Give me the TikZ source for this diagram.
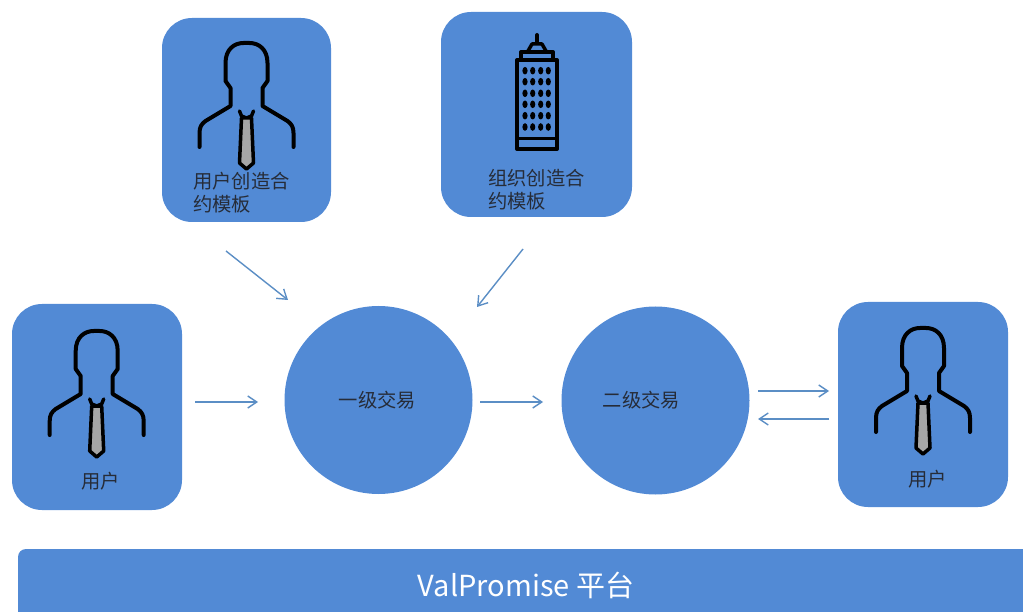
\documentclass[tikz,border=0pt]{standalone}
\usepackage{fontspec}
\setmainfont{Noto Sans CJK SC}
\usetikzlibrary{arrows.meta}
\definecolor{panelblue}{HTML}{528AD5}
\definecolor{flowblue}{HTML}{5B8EC5}
\definecolor{capgray}{HTML}{262C38}
\tikzset{
  panel/.style={fill=panelblue, rounded corners=30pt, inner sep=0pt},
  trade/.style={fill=panelblue, shape=circle, inner sep=0pt, minimum size=188pt},
  captxt/.style={text=capgray, inner sep=0pt, font=\fontsize{19.3}{23}\selectfont},
  flow/.style={draw=flowblue, line width=1.4pt, -{Straight Barb[length=9pt,width=12pt]}},
  icon/.style={draw=black, line width=4pt, line cap=round, line join=round},
}
\def\personicon(#1,#2){
  \draw[icon] (#1-47,#2+104) -- (#1-47,#2+90) .. controls (#1-47,#2+84) and (#1-45,#2+81) .. (#1-41,#2+78)
    -- (#1-16,#2+63) -- (#1-16,#2+45) -- (#1-21,#2+38) -- (#1-21,#2+20)
    .. controls (#1-21,#2+6) and (#1-12,#2) .. (#1-3,#2) -- (#1+3,#2)
    .. controls (#1+12,#2) and (#1+21,#2+6) .. (#1+21,#2+20)
    -- (#1+21,#2+38) -- (#1+16,#2+45) -- (#1+16,#2+63) -- (#1+41,#2+78)
    .. controls (#1+45,#2+81) and (#1+47,#2+84) .. (#1+47,#2+90) -- (#1+47,#2+104);
  \draw[icon, line width=3.5pt] (#1-7,#2+68) -- (#1-5,#2+73) -- (#1,#2+75) -- (#1+5,#2+73) -- (#1+7,#2+68);
  \draw[icon, line width=3.5pt, fill=gray!70] (#1-5,#2+75) -- (#1-7,#2+120) -- (#1,#2+126) -- (#1+7,#2+120) -- (#1+5,#2+75) -- cycle;
}
\begin{document}
\begin{tikzpicture}[x=1pt,y=-1pt]
\useasboundingbox (0,0) rectangle (1023,612);
\node[panel, minimum width=170pt, minimum height=206pt] (usrL) at (97,407) {};
\node[panel, minimum width=169pt, minimum height=204pt] (tmplU) at (246.5,120) {};
\node[panel, minimum width=191pt, minimum height=205pt] (tmplO) at (536.5,114.5) {};
\node[panel, minimum width=170pt, minimum height=205pt] (usrR) at (923,404.5) {};
\node[trade] (prim) at (378.5,400) {};
\node[trade] (scnd) at (655.5,400.5) {};
\node[fill=panelblue, rounded corners=8pt, minimum width=1016pt, minimum height=72pt, inner sep=0pt, text=white, font=\fontsize{29}{33}\selectfont] (platform) at (526,585) {ValPromise 平台};
\personicon(96.7,331)
\personicon(246.5,43)
\personicon(923,328)
% building
\draw[icon] (537,35) -- (537,42);
\draw[icon, line width=3.5pt] (528,51) -- (532,44) -- (542,44) -- (546,51);
\draw[icon] (521,60) -- (521,52) -- (553,52) -- (553,60);
\draw[icon] (517,60) rectangle (557,149);
\draw[icon, line width=3pt] (517,139) -- (557,139);
\foreach \wx in {525,532.7,540.7,548.3}
  \foreach \wy in {70.7,81.7,93.3,104.3,115.7,127}
    \fill[black] (\wx,\wy) ellipse (2.6pt and 3.8pt);
\node[captxt, align=left, anchor=north west] (capU) at (193,172) {用户创造合\\约模板};
\node[captxt, align=left, anchor=north west] (capO) at (488,169) {组织创造合\\约模板};
\node[captxt] (capL) at (100.5,481) {用户};
\node[captxt] (capR) at (927.5,479) {用户};
\node[captxt] (capP) at (377.5,400) {一级交易};
\node[captxt] (capS) at (641.5,400) {二级交易};
\coordinate (a1) at (226,251); \coordinate (a2) at (288,300);
\coordinate (b1) at (523,249); \coordinate (b2) at (477,307);
\coordinate (c1) at (195,402); \coordinate (c2) at (258,402);
\coordinate (d1) at (480,402); \coordinate (d2) at (543,402);
\coordinate (e1) at (758,391); \coordinate (e2) at (829,391);
\coordinate (f1) at (829,419); \coordinate (f2) at (758,419);
\draw[flow] (a1) -- (a2);
\draw[flow] (b1) -- (b2);
\draw[flow] (c1) -- (c2);
\draw[flow] (d1) -- (d2);
\draw[flow] (e1) -- (e2);
\draw[flow] (f1) -- (f2);
\end{tikzpicture}
\end{document}
